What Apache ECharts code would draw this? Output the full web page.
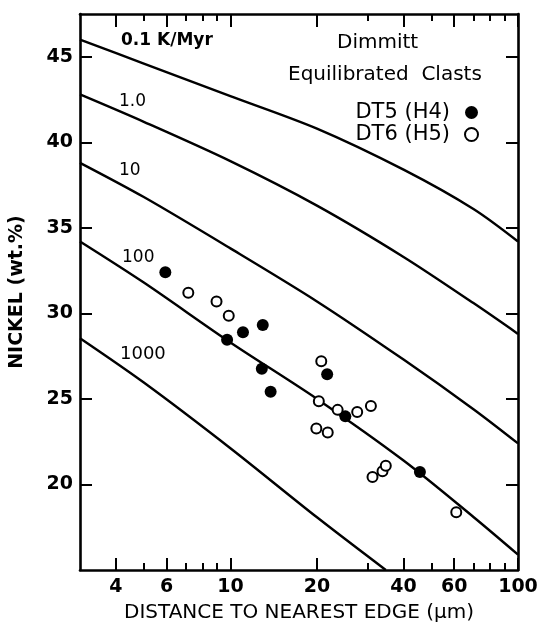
<!DOCTYPE html>
<html>
<head>
<meta charset="utf-8">
<script src="https://cdn.jsdelivr.net/npm/echarts@6/dist/echarts.min.js"></script>
<style>
  html, body { margin: 0; padding: 0; background: #fff; }
  #chart { width: 541px; height: 628px; }
</style>
</head>
<body>
<div id="chart"></div>
<script>
// cooling-rate curves (Ni wt.% vs distance to nearest edge, um)
const curveX = [3, 5, 10, 20, 40, 70, 100];
const ni01 = [46.0, 44.6, 42.7, 40.8, 38.4, 36.1, 34.2];
const ni1 = [42.8, 41.2, 38.9, 36.3, 33.3, 30.6, 28.8];
const ni10 = [38.8, 36.8, 33.8, 30.7, 27.3, 24.4, 22.4];
const ni100 = [34.2, 31.8, 28.3, 25.0, 21.4, 18.1, 15.9];
const curve1000X = [3, 5, 10, 20, 34.7];
const ni1000 = [28.55, 25.96, 22.12, 18.08, 15.0];

// measured clasts
const dt5X = [5.94, 9.74, 11.06, 12.96, 12.86, 13.8, 21.7, 25.1, 45.6];
const dt5Ni = [32.4, 28.46, 28.9, 29.32, 26.77, 25.42, 26.44, 23.98, 20.73];
const dt6X = [7.14, 8.95, 9.87, 20.7, 20.3, 23.6, 27.6, 30.8, 19.9, 21.8, 31.2, 33.8, 34.7, 61.0];
const dt6Ni = [31.2, 30.7, 29.86, 27.2, 24.86, 24.36, 24.23, 24.58, 23.27, 23.04, 20.43, 20.77, 21.1, 18.37];

const xLabelTicks = [4, 6, 10, 20, 40, 60, 100];
const xMinorTicks = [5, 7, 8, 9, 30, 50, 70, 80, 90];
const yTicks = [20, 25, 30, 35, 40, 45];

const pair = (xs, ys) => xs.map((x, i) => [x, ys[i]]);

const font = "DejaVu Sans";
const ink = "#000";

const xBase = (position, ticks, len, showLine, showLabel) => ({
  type: "log",
  logBase: 10,
  min: 3,
  max: 100,
  position,
  gridIndex: 0,
  splitLine: { show: false },
  axisLine: { show: showLine, onZero: false, lineStyle: { color: ink, width: 2.6 } },
  axisTick: { show: true, inside: true, length: len, customValues: ticks, lineStyle: { color: ink, width: 2 } },
  axisLabel: showLabel
    ? { show: true, customValues: xLabelTicks, margin: 8, color: ink, fontFamily: font, fontWeight: "bold", fontSize: 19 }
    : { show: false },
});

const yBase = (position, showLabel) => ({
  type: "value",
  min: 15,
  max: 47.5,
  position,
  splitLine: { show: false },
  axisLine: { show: true, lineStyle: { color: ink, width: 2.6 } },
  axisTick: { show: true, inside: true, length: 12, customValues: yTicks, lineStyle: { color: ink, width: 2 } },
  axisLabel: showLabel
    ? { show: true, customValues: yTicks, margin: 7, color: ink, fontFamily: font, fontWeight: "bold", fontSize: 19 }
    : { show: false },
});

const chart = echarts.init(document.getElementById("chart"), null, { renderer: "canvas" });

const lineSeries = (data) => ({
  type: "line",
  data,
  smooth: 0.3,
  showSymbol: false,
  symbol: "none",
  silent: true,
  clip: true,
  lineStyle: { color: ink, width: 2.4 },
  z: 2,
});

const curveLabel = (text, x, y, size, weight) => ({
  type: "text",
  left: x,
  top: y,
  style: { text, fill: ink, font: `${weight || "normal"} ${size}px "${font}"` },
});

chart.setOption({
  animation: false,
  grid: { left: 75, right: 23, top: 14, bottom: 51 },
  xAxis: [
    Object.assign(xBase("bottom", xLabelTicks, 12, true, true), {
      name: "DISTANCE TO NEAREST EDGE (\u03bcm)",
      nameLocation: "middle",
      nameGap: 33,
      nameTextStyle: { color: ink, fontFamily: font, fontSize: 20 },
    }),
    xBase("bottom", xMinorTicks, 7, false, false),
    xBase("top", xLabelTicks, 13, true, false),
    xBase("top", xMinorTicks, 7, false, false),
  ],
  yAxis: [
    Object.assign(yBase("left", true), {
      name: "NICKEL (wt.%)",
      nameLocation: "middle",
      nameGap: 53,
      nameTextStyle: { color: ink, fontFamily: font, fontWeight: "bold", fontSize: 19 },
    }),
    yBase("right", false),
  ],
  legend: {
    orient: "vertical",
    right: 57,
    top: 97,
    align: "right",
    itemGap: 1,
    itemWidth: 13,
    itemHeight: 13,
    selectedMode: false,
    data: ["DT5 (H4)", "DT6 (H5)"],
    textStyle: { color: ink, fontFamily: font, fontSize: 21, padding: [0, 10, 0, 0] },
  },
  graphic: [
    curveLabel("0.1 K/Myr", 121, 32, 17, "bold"),
    curveLabel("1.0", 119, 93, 17),
    curveLabel("10", 119, 162, 17),
    curveLabel("100", 122, 249, 17),
    curveLabel("1000", 120, 345, 18),
    curveLabel("Dimmitt", 337, 33, 20),
    curveLabel("Equilibrated  Clasts", 288, 65, 20),
  ],
  series: [
    lineSeries(pair(curveX, ni01)),
    lineSeries(pair(curveX, ni1)),
    lineSeries(pair(curveX, ni10)),
    lineSeries(pair(curveX, ni100)),
    lineSeries(pair(curve1000X, ni1000)),
    {
      name: "DT5 (H4)",
      type: "scatter",
      data: pair(dt5X, dt5Ni),
      symbol: "circle",
      symbolSize: 12,
      itemStyle: { color: ink, opacity: 1 },
      z: 4,
    },
    {
      name: "DT6 (H5)",
      type: "scatter",
      data: pair(dt6X, dt6Ni),
      symbol: "circle",
      symbolSize: 10,
      itemStyle: { color: "#fff", borderColor: ink, borderWidth: 2, opacity: 1 },
      z: 5,
    },
  ],
});
</script>
</body>
</html>
